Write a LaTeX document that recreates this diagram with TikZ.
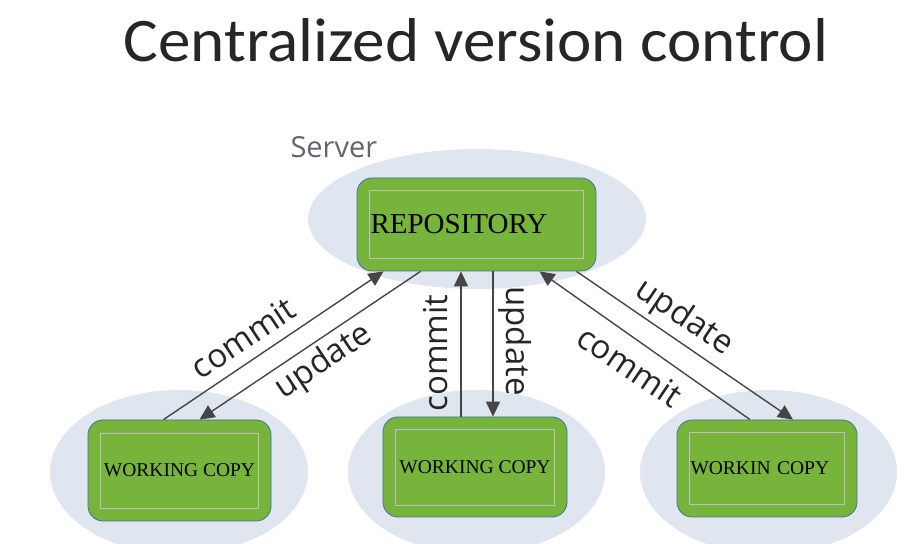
\documentclass[tikz,border=0pt]{standalone}
\usepackage{fontspec}
\setmainfont{Liberation Serif}
\newfontfamily\titlefont{Carlito}
\newfontfamily\labelfont{Open Sans}
\usetikzlibrary{arrows.meta, positioning, calc}
\definecolor{boxgreen}{HTML}{76B43C}
\definecolor{boxedge}{HTML}{41719C}
\definecolor{cloud}{HTML}{DFE6EF}
\definecolor{wiregray}{HTML}{454545}
\definecolor{servergray}{HTML}{5F6670}
\tikzset{
    % pale ellipse behind each machine
    halo/.style={fill=cloud, draw=none},
    % green rounded box for repository / working copies
    store/.style={draw=boxedge, fill=boxgreen, line width=0.8pt, rounded corners=15pt},
    % thin light frame inside each box, holds the text
    frame/.style={draw=black!25, line width=0.6pt, inner xsep=1pt},
    % directed edges
    edge/.style={-{Triangle[length=15pt, width=14pt]}, line width=1.4pt, draw=wiregray},
    % edge labels
    wire/.style={font=\labelfont\fontsize{33}{33}\selectfont, text=black!85, inner sep=0pt},
}

\begin{document}
\begin{tikzpicture}[x=1pt, y=1pt]

    \useasboundingbox (0,0) rectangle (914,544);
    \clip (0,0) rectangle (914,544);

    % --- title and server label ---
    \node[anchor=base, xscale=1.05, font=\titlefont\fontsize{62}{62}\selectfont, text=black!85] (title) at (476, 482) {Centralized version control};
    \node[anchor=base west, font=\labelfont\fontsize{29}{29}\selectfont, text=servergray] (server) at (287, 386) {Server};

    % --- halos ---
    \fill[halo] (477, 325) ellipse (169 and 70);
    \fill[halo] (179, 72) ellipse (129 and 82);
    \fill[halo] (476.5, 72) ellipse (128.5 and 82);
    \fill[halo] (768.5, 72) ellipse (128.5 and 82);

    % --- repository ---
    \node[store, minimum width=239pt, minimum height=93pt] (repo) at (476.5, 319.5) {};
    \node[frame, align=left, minimum height=68pt, text width=212pt, font=\fontsize{29}{29}\selectfont] (repoIn) at (repo.center) {REPOSITORY};

    % --- working copies ---
    \node[store, minimum width=183pt, minimum height=101pt] (wcA) at (179.5, 73.5) {};
    \node[frame, minimum width=158pt, minimum height=75pt, font=\fontsize{19.5}{20}\selectfont] (wcAIn) at (wcA.center) {WORKING COPY};
    \node[store, minimum width=184pt, minimum height=100pt] (wcB) at (475, 77) {};
    \node[frame, minimum width=159pt, minimum height=76pt, font=\fontsize{19.5}{20}\selectfont] (wcBIn) at (wcB.center) {WORKING COPY};
    \node[store, minimum width=180pt, minimum height=97pt] (wcC) at (767, 75.5) {};
    \node[frame, align=left, minimum height=72pt, text width=153pt, font=\fontsize{19.5}{20}\selectfont] (wcCIn) at (wcC.center) {WORKIN COPY};

    % left pair
    \draw[edge] ([xshift=-16pt]wcA.north) -- ([xshift=-93pt]repo.south);
    \draw[edge] ([xshift=-56pt]repo.south) -- ([xshift=20pt]wcA.north);
    \node[wire, rotate=33.7] (lblA1) at (243, 206) {commit};
    \node[wire, rotate=33.7] (lblA2) at (324, 182) {update};

    % middle pair
    \draw[edge] ([xshift=-14pt]wcB.north) -- ([xshift=-14pt]wcB.north |- repo.south);
    \draw[edge] ([xshift=18pt]wcB.north |- repo.south) -- ([xshift=18pt]wcB.north);
    \node[wire, rotate=90] (lblB1) at (436, 191) {commit};
    \node[wire, rotate=-90] (lblB2) at (515, 203) {update};

    % right pair
    \draw[edge] ([xshift=-17pt]wcC.north) -- ([xshift=63pt]repo.south);
    \draw[edge] ([xshift=100pt]repo.south) -- ([xshift=26pt]wcC.north);
    \node[wire, rotate=-34] (lblC1) at (684, 226) {update};
    \node[wire, rotate=-34] (lblC2) at (630, 178) {commit};

\end{tikzpicture}
\end{document}
